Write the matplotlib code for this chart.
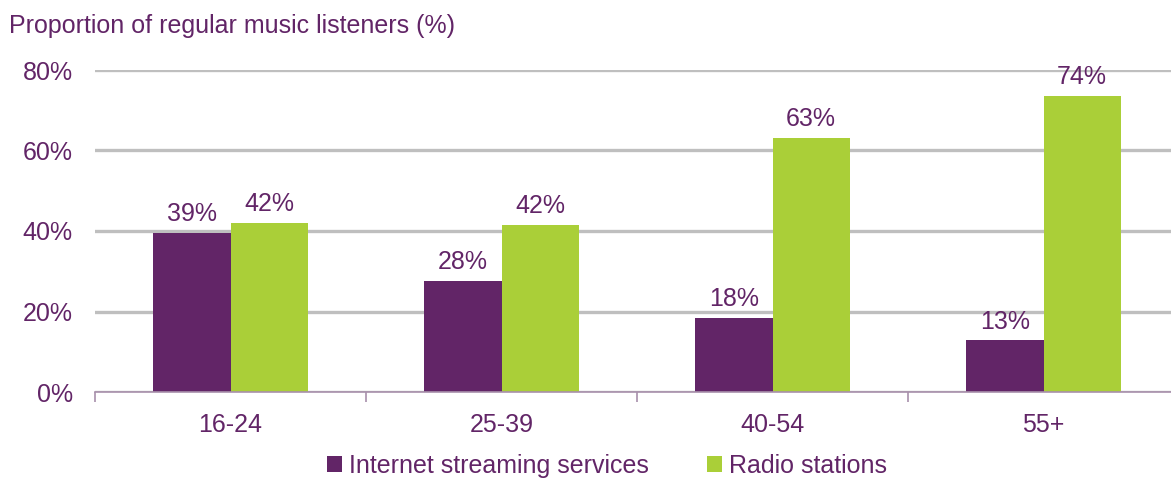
import numpy as np
import matplotlib
matplotlib.use("Agg")
import matplotlib.pyplot as plt

plt.rcParams['font.family'] = ['Liberation Sans', 'DejaVu Sans']

age_groups = ['16-24', '25-39', '40-54', '55+']
streaming = [39.4, 27.7, 18.3, 12.8]
radio = [41.9, 41.6, 63.1, 73.6]
y_ticks = [0, 20, 40, 60, 80]

PURPLE = '#622567'
GREEN = '#aacf38'
GRID = '#bfbfbf'
AXIS = '#a890ab'
FS = 18

fig = plt.figure(figsize=(11.71, 4.79), dpi=100)
ax = fig.add_axes([95 / 1171, 1 - 392 / 479, 1084 / 1171, 322 / 479])

x = np.arange(len(age_groups))
w = 0.285
b1 = ax.bar(x - w / 2, streaming, w, color=PURPLE, label='Internet streaming services', zorder=3)
b2 = ax.bar(x + w / 2, radio, w, color=GREEN, label='Radio stations', zorder=3)

for bars in (b1, b2):
    ax.bar_label(bars, labels=[f'{round(v)}%' for v in bars.datavalues],
                 padding=5, color=PURPLE, fontsize=FS)

ax.set_xlim(-0.5, len(age_groups) - 0.5)
ax.set_ylim(0, 80)
ax.set_yticks(y_ticks)
ax.set_yticklabels([f'{t}%' for t in y_ticks], color=PURPLE, fontsize=FS)
ax.tick_params(axis='y', length=0, pad=16)
ax.yaxis.grid(True, color=GRID, linewidth=2.4, zorder=0)

# category labels in the middle, tick marks on the boundaries
ax.set_xticks(x)
ax.set_xticklabels(age_groups, color=PURPLE, fontsize=FS)
ax.tick_params(axis='x', which='major', length=0, pad=15)
ax.set_xticks(np.arange(-0.5, len(age_groups)), minor=True)
ax.tick_params(axis='x', which='minor', length=7, color=AXIS, width=1.2)

for side in ('top', 'right', 'left'):
    ax.spines[side].set_visible(False)
ax.spines['bottom'].set_color(AXIS)
ax.spines['bottom'].set_linewidth(1.2)
ax.spines['bottom'].set_zorder(4)

fig.text(9 / 1171, 1 - 26 / 479, 'Proportion of regular music listeners (%)',
         color=PURPLE, fontsize=FS, va='center', ha='left')

fig.legend(loc='center', bbox_to_anchor=(607 / 1171, 1 - 466 / 479), ncol=2,
           frameon=False, fontsize=FS, handlelength=0.6, handleheight=0.6,
           handletextpad=0.3, columnspacing=2.3, labelcolor=PURPLE)

fig.savefig('out.png', dpi=100)
